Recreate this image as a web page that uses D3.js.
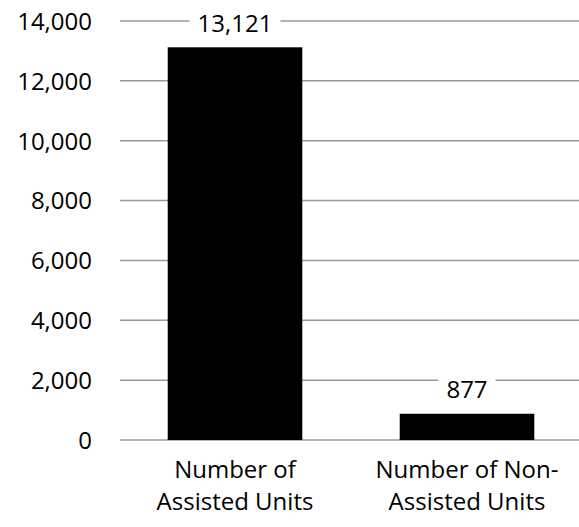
<!DOCTYPE html>
<html>
<head>
<meta charset="utf-8">
<script src="https://cdn.jsdelivr.net/npm/d3@7"></script>
<style>
  body { margin: 0; background: #fff; }
  text { font-family: "Open Sans", sans-serif; fill: #000; }
</style>
</head>
<body>
<svg id="chart" width="579" height="527"></svg>
<script>
const categories = [["Number of", "Assisted Units"], ["Number of Non-", "Assisted Units"]];
const values = [13121, 877];
const yTicks = [0, 2000, 4000, 6000, 8000, 10000, 12000, 14000];

const margin = { top: 21, right: 0, bottom: 87, left: 119 };
const width = 583 - margin.left;
const height = 527 - margin.top - margin.bottom;

const svg = d3.select("#chart")
  .append("g")
  .attr("transform", `translate(${margin.left},${margin.top})`);

const x = d3.scaleBand()
  .domain(d3.range(values.length))
  .range([0, width])
  .paddingInner(0.42)
  .paddingOuter(0.21);

const y = d3.scaleLinear()
  .domain([0, 14000])
  .range([height, 0]);

// gridlines
svg.selectAll("line.grid")
  .data(yTicks)
  .enter()
  .append("line")
  .attr("class", "grid")
  .attr("x1", 1)
  .attr("x2", width + 10)
  .attr("y1", d => y(d))
  .attr("y2", d => y(d))
  .attr("stroke", "#999")
  .attr("stroke-width", 1.5);

// y axis labels
const yAxis = svg.append("g")
  .call(d3.axisLeft(y).tickValues(yTicks).tickFormat(d3.format(",")).tickSize(0).tickPadding(27));
yAxis.select(".domain").remove();
yAxis.selectAll("text")
  .style("font-family", "'Open Sans', sans-serif")
  .style("font-size", "24px")
  .attr("dy", "0.35em");

svg.selectAll("rect.bar")
  .data(values)
  .enter()
  .append("rect")
  .attr("class", "bar")
  .attr("x", (d, i) => x(i))
  .attr("y", d => y(d))
  .attr("width", x.bandwidth())
  .attr("height", d => height - y(d))
  .attr("fill", "#000");

// value labels with white boxes
const lab = svg.selectAll("g.lab")
  .data(values)
  .enter()
  .append("g")
  .attr("class", "lab")
  .attr("transform", (d, i) => `translate(${x(i) + x.bandwidth() / 2},${y(d) - 24})`);

lab.append("text")
  .attr("text-anchor", "middle")
  .attr("dy", "0.35em")
  .style("font-size", "24px")
  .text(d => d3.format(",")(d))
  .each(function () {
    const b = this.getBBox();
    d3.select(this.parentNode).insert("rect", "text")
      .attr("x", b.x - 8)
      .attr("y", -12)
      .attr("width", b.width + 16)
      .attr("height", 24)
      .attr("fill", "#fff");
  });

// category labels
const cat = svg.selectAll("text.cat")
  .data(categories)
  .enter()
  .append("text")
  .attr("class", "cat")
  .attr("text-anchor", "middle")
  .attr("x", (d, i) => x(i) + x.bandwidth() / 2)
  .attr("y", height + 38)
  .style("font-size", "24px");

cat.selectAll("tspan")
  .data(d => d)
  .enter()
  .append("tspan")
  .attr("x", function () { return d3.select(this.parentNode).attr("x"); })
  .attr("dy", (d, i) => i === 0 ? 0 : 32)
  .text(d => d);
</script>
</body>
</html>
